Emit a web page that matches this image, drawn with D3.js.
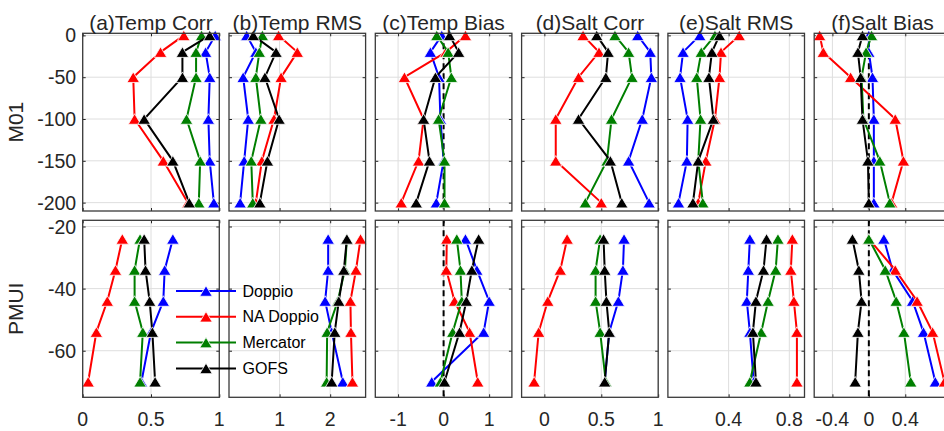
<!DOCTYPE html>
<html>
<head>
<meta charset="utf-8">
<script src="https://cdn.jsdelivr.net/npm/d3@7"></script>
<style>
  html, body { margin: 0; padding: 0; background: #fff; }
  svg { display: block; font-family: "Liberation Sans", Arial, Helvetica, sans-serif; }
</style>
</head>
<body>
<svg id="chart" width="944" height="431"></svg>
<script>
// Series and their colours (legend order)
const seriesNames = ["Doppio", "NA Doppio", "Mercator", "GOFS"];
const seriesColors = ["#0000ff", "#ff0000", "#007f00", "#000000"];

const panelTitles = ["(a)Temp Corr", "(b)Temp RMS", "(c)Temp Bias", "(d)Salt Corr", "(e)Salt RMS", "(f)Salt Bias"];
const rowLabels = ["M01", "PMUI"];

// Depth levels (m) for each station
const depthM01 = [0, -20, -50, -100, -150, -200];
const depthPMUI = [-24, -34, -44, -54, -70];

// Axis ticks
const xTicksTempCorr = [0, 0.5, 1];
const xTicksTempRMS = [1, 2];
const xTicksTempBias = [-1, 0, 1];
const xTicksSaltCorr = [0, 0.5, 1];
const xTicksSaltRMS = [0.4, 0.8];
const xTicksSaltBias = [-0.4, 0, 0.4];
const yTicksM01 = [0, -50, -100, -150, -200];
const yTicksPMUI = [-20, -40, -60];

// M01 statistics, one row per series: Doppio, NA Doppio, Mercator, GOFS
const m01TempCorr = [
  [0.97, 0.90, 0.93, 0.92, 0.93, 0.96],
  [0.74, 0.57, 0.37, 0.38, 0.59, 0.77],
  [0.87, 0.83, 0.83, 0.76, 0.86, 0.85],
  [0.93, 0.73, 0.73, 0.45, 0.66, 0.78]
];
const m01TempRMS = [
  [0.35, 0.53, 0.28, 0.38, 0.30, 0.22],
  [0.98, 1.35, 1.03, 0.89, 0.65, 0.53],
  [0.66, 0.60, 0.53, 0.63, 0.44, 0.47],
  [0.48, 0.93, 0.71, 0.99, 0.76, 0.61]
];
const m01TempBias = [
  [-0.04, -0.29, -0.10, -0.07, 0.00, -0.16],
  [0.48, 0.05, -0.86, -0.44, -0.55, -0.93],
  [-0.15, 0.10, 0.17, -0.11, 0.02, 0.02],
  [0.13, 0.33, -0.18, -0.44, -0.31, -0.60]
];
const m01SaltCorr = [
  [0.82, 0.93, 0.94, 0.86, 0.74, 0.92],
  [0.34, 0.48, 0.30, 0.10, 0.10, 0.50],
  [0.62, 0.74, 0.77, 0.59, 0.55, 0.36],
  [0.46, 0.56, 0.54, 0.30, 0.58, 0.68]
];
const m01SaltRMS = [
  [0.21, 0.10, 0.08, 0.13, 0.125, 0.07],
  [0.47, 0.35, 0.34, 0.31, 0.25, 0.20],
  [0.31, 0.22, 0.19, 0.215, 0.20, 0.23],
  [0.34, 0.29, 0.27, 0.30, 0.20, 0.165]
];
const m01SaltBias = [
  [0.00, 0.00, 0.04, 0.055, 0.055, 0.055],
  [-0.54, -0.50, -0.20, 0.29, 0.38, 0.25],
  [0.03, -0.03, -0.08, -0.06, 0.12, 0.23],
  [-0.07, -0.12, -0.09, -0.07, -0.01, 0.00]
];

// PMUI statistics
const pmuiTempCorr = [
  [0.66, 0.60, 0.59, 0.50, 0.43],
  [0.29, 0.24, 0.18, 0.10, 0.04],
  [0.42, 0.38, 0.38, 0.44, 0.42],
  [0.45, 0.46, 0.49, 0.51, 0.53]
];
const pmuiTempRMS = [
  [1.96, 1.96, 1.90, 2.03, 2.25],
  [2.60, 2.51, 2.40, 2.41, 2.44],
  [2.33, 2.29, 2.15, 1.94, 1.93],
  [2.33, 2.27, 2.17, 2.09, 2.03]
];
const pmuiTempBias = [
  [0.48, 0.73, 1.00, 0.88, -0.26],
  [0.07, 0.06, 0.24, 0.57, 0.75],
  [0.29, 0.37, 0.40, 0.20, -0.07],
  [0.77, 0.62, 0.50, 0.35, 0.02]
];
const pmuiSaltCorr = [
  [0.70, 0.69, 0.65, 0.57, 0.53],
  [0.20, 0.14, 0.03, -0.05, -0.09],
  [0.49, 0.45, 0.45, 0.49, 0.54],
  [0.52, 0.53, 0.545, 0.57, 0.53]
];
const pmuiSaltRMS = [
  [0.54, 0.53, 0.52, 0.54, 0.565],
  [0.82, 0.81, 0.83, 0.85, 0.85],
  [0.725, 0.71, 0.66, 0.615, 0.54],
  [0.65, 0.63, 0.58, 0.56, 0.58]
];
const pmuiSaltBias = [
  [0.165, 0.26, 0.48, 0.60, 0.73],
  [0.00, 0.29, 0.53, 0.70, 0.83],
  [0.00, 0.18, 0.30, 0.385, 0.46],
  [-0.18, -0.11, -0.08, -0.12, -0.15]
];

// ---- layout ----
const svg = d3.select("#chart");
const textColor = "#262626";
const panelLeft0 = 82.7, panelStep = 146.3, panelW = 136.6;

const columns = [
  { title: panelTitles[0], domain: [0, 1],      ticks: xTicksTempCorr, zero: false, data: [m01TempCorr, pmuiTempCorr] },
  { title: panelTitles[1], domain: [0, 2.7],    ticks: xTicksTempRMS,  zero: false, data: [m01TempRMS, pmuiTempRMS] },
  { title: panelTitles[2], domain: [-1.5, 1.5], ticks: xTicksTempBias, zero: true,  data: [m01TempBias, pmuiTempBias] },
  { title: panelTitles[3], domain: [-0.2, 1],   ticks: xTicksSaltCorr, zero: false, data: [m01SaltCorr, pmuiSaltCorr] },
  { title: panelTitles[4], domain: [0, 0.9],    ticks: xTicksSaltRMS,  zero: false, data: [m01SaltRMS, pmuiSaltRMS] },
  { title: panelTitles[5], domain: [-0.6, 0.9], ticks: xTicksSaltBias, zero: true,  data: [m01SaltBias, pmuiSaltBias] }
];

const rows = [
  { label: rowLabels[0], top: 33.3, bottom: 211,   domain: [-210, 2.5], ticks: yTicksM01,  depth: depthM01 },
  { label: rowLabels[1], top: 220.3, bottom: 397.3, domain: [-75, -18],  ticks: yTicksPMUI, depth: depthPMUI }
];

const tickFmt = v => String(v);   // plain hyphen minus

// triangle marker centred on its bounding box
function triangle(w, h) {
  return `M0,${-h / 2}L${w / 2},${h / 2}L${-w / 2},${h / 2}Z`;
}
const markerPath = triangle(12.5, 10.5);
const lineWidth = 2;

rows.forEach((row, ri) => {
  const y = d3.scaleLinear().domain(row.domain).range([row.bottom, row.top]);

  columns.forEach((col, ci) => {
    const x0 = panelLeft0 + ci * panelStep;
    const x = d3.scaleLinear().domain(col.domain).range([x0, x0 + panelW]);
    const g = svg.append("g");

    // grid
    g.selectAll(".vg").data(col.ticks).enter().append("line")
      .attr("x1", d => x(d)).attr("x2", d => x(d))
      .attr("y1", row.top).attr("y2", row.bottom)
      .attr("stroke", "#dedede").attr("stroke-width", 1);
    g.selectAll(".hg").data(row.ticks).enter().append("line")
      .attr("x1", x0).attr("x2", x0 + panelW)
      .attr("y1", d => y(d)).attr("y2", d => y(d))
      .attr("stroke", "#dedede").attr("stroke-width", 1);

    // axes (ticks inside on all four sides)
    const tl = 3;
    const bottomAxis = d3.axisBottom(x).tickValues(col.ticks).tickSize(-tl).tickFormat("");
    const topAxis = d3.axisTop(x).tickValues(col.ticks).tickSize(-tl).tickFormat("");
    const leftAxis = d3.axisLeft(y).tickValues(row.ticks).tickSize(-tl).tickFormat("");
    const rightAxis = d3.axisRight(y).tickValues(row.ticks).tickSize(-tl).tickFormat("");
    [[bottomAxis, `translate(0,${row.bottom})`], [topAxis, `translate(0,${row.top})`],
     [leftAxis, `translate(${x0},0)`], [rightAxis, `translate(${x0 + panelW},0)`]].forEach(([ax, tr]) => {
      const a = g.append("g").attr("transform", tr).call(ax);
      a.select(".domain").remove();
      a.selectAll(".tick line").attr("stroke", textColor).attr("stroke-width", 1);
    });

    // zero reference line for bias panels
    if (col.zero) {
      g.append("line")
        .attr("x1", x(0)).attr("x2", x(0))
        .attr("y1", row.top).attr("y2", row.bottom)
        .attr("stroke", "#000").attr("stroke-width", 2)
        .attr("stroke-dasharray", "6,4");
    }

    // series
    const values = col.data[ri];
    const line = d3.line().x(d => x(d[0])).y(d => y(d[1]));
    values.forEach((vals, si) => {
      const pts = vals.map((v, k) => [v, row.depth[k]]);
      g.append("path").datum(pts)
        .attr("d", line)
        .attr("fill", "none")
        .attr("stroke", seriesColors[si])
        .attr("stroke-width", lineWidth);
      g.selectAll(null).data(pts).enter().append("path")
        .attr("d", markerPath)
        .attr("transform", d => `translate(${x(d[0])},${y(d[1])})`)
        .attr("fill", seriesColors[si])
        .attr("stroke", "#fff")
        .attr("stroke-width", 0.8);
    });

    // frame
    g.append("rect")
      .attr("x", x0).attr("y", row.top)
      .attr("width", panelW).attr("height", row.bottom - row.top)
      .attr("fill", "none").attr("stroke", "#3a3a3a").attr("stroke-width", 1.3);

    // titles on the top row
    if (ri === 0) {
      svg.append("text")
        .attr("x", x0 + panelW / 2).attr("y", 29.5)
        .attr("text-anchor", "middle")
        .attr("font-size", 21).attr("fill", textColor)
        .text(col.title);
    }

    // x tick labels on the bottom row
    if (ri === rows.length - 1) {
      svg.append("g").selectAll("text").data(col.ticks).enter().append("text")
        .attr("x", d => x(d)).attr("y", 425.5)
        .attr("text-anchor", "middle")
        .attr("font-size", 19.5).attr("fill", textColor)
        .text(tickFmt);
    }

    // y tick labels and row label on the first column
    if (ci === 0) {
      svg.append("g").selectAll("text").data(row.ticks).enter().append("text")
        .attr("x", x0 - 6.5).attr("y", d => y(d))
        .attr("dy", "0.36em")
        .attr("text-anchor", "end")
        .attr("font-size", 19.5).attr("fill", textColor)
        .text(tickFmt);
      const cy = (row.top + row.bottom) / 2;
      svg.append("text")
        .attr("transform", `translate(23,${cy}) rotate(-90)`)
        .attr("text-anchor", "middle")
        .attr("font-size", 21).attr("fill", textColor)
        .text(row.label);
    }
  });
});

// legend
const legend = svg.append("g");
const legendX0 = 176, legendX1 = 236, legendY0 = 291, legendDy = 25.8;
seriesNames.forEach((name, si) => {
  const ly = legendY0 + si * legendDy;
  legend.append("line")
    .attr("x1", legendX0).attr("x2", legendX1)
    .attr("y1", ly).attr("y2", ly)
    .attr("stroke", seriesColors[si]).attr("stroke-width", lineWidth);
  legend.append("path")
    .attr("d", markerPath)
    .attr("transform", `translate(${(legendX0 + legendX1) / 2},${ly})`)
    .attr("fill", seriesColors[si]).attr("stroke", "#fff").attr("stroke-width", 0.8);
  legend.append("text")
    .attr("x", legendX1 + 6.5).attr("y", ly).attr("dy", "0.35em")
    .attr("font-size", 16).attr("fill", "#000")
    .text(name);
});
</script>
</body>
</html>
